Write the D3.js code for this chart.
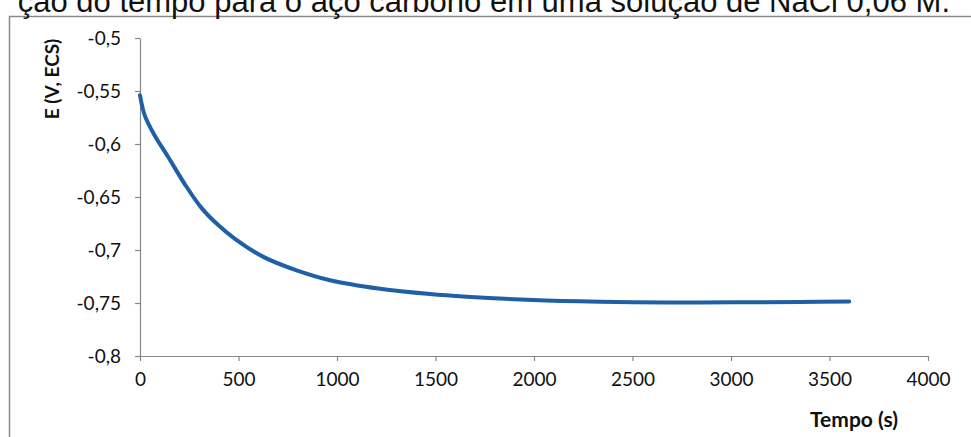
<!DOCTYPE html>
<html><head><meta charset="utf-8">
<script src="https://cdn.jsdelivr.net/npm/d3@7"></script>
<style>body{margin:0;background:#fff;}svg{display:block;}</style>
</head><body>
<svg id="c" width="971" height="437"></svg>
<script>
const titleText = "ção do tempo para o aço carbono em uma solução de NaCl 0,06 M.";
const xLabel = "Tempo (s)";
const yLabel = "E (V, ECS)";
const xTicks = [0, 500, 1000, 1500, 2000, 2500, 3000, 3500, 4000];
const yTicks = [-0.5, -0.55, -0.6, -0.65, -0.7, -0.75, -0.8];
const timeS = [0, 25, 76, 144, 228, 313, 397, 482, 626, 795, 964, 1218, 1472, 1658, 1996, 2335, 2673, 3012, 3350, 3600];
const potentialV = [-0.554, -0.5735, -0.5925, -0.6125, -0.638, -0.6605, -0.6765, -0.6895, -0.7065, -0.7192, -0.7285, -0.7365, -0.7415, -0.744, -0.7472, -0.7488, -0.7495, -0.7493, -0.749, -0.7485];

const svg = d3.select("#c");
const fmt = v => String(v).replace(".", ",");

// frame
svg.append("path").attr("d", "M9.5,437 L9.5,16.5 L971,16.5")
  .attr("fill", "none").attr("stroke", "#8a8a8a").attr("stroke-width", 1.5);

// title fragment
svg.append("text").attr("x", 950).attr("y", 11.5).attr("text-anchor", "end")
  .attr("font-family", "Liberation Sans, Arial, sans-serif").attr("font-size", 31)
  .attr("fill", "#111").text(titleText);

const x = d3.scaleLinear().domain([0, 4000]).range([140, 928]);
const y = d3.scaleLinear().domain([-0.8, -0.5]).range([356, 38]);

const gx = svg.append("g").attr("transform", "translate(0,356)")
  .call(d3.axisBottom(x).tickValues(xTicks).tickFormat(fmt).tickSizeInner(5).tickSizeOuter(0).tickPadding(12));
const gy = svg.append("g").attr("transform", "translate(140,0)")
  .call(d3.axisLeft(y).tickValues(yTicks).tickFormat(fmt).tickSizeInner(5).tickSizeOuter(0).tickPadding(14));
[gx, gy].forEach(g => {
  g.select(".domain").attr("stroke", "#878787").attr("stroke-width", 1.2);
  g.selectAll(".tick line").attr("stroke", "#878787").attr("stroke-width", 1.2);
  g.selectAll(".tick text").attr("font-family", "Lato, sans-serif").attr("font-size", 19).attr("fill", "#111");
});

const line = d3.line().x((d, i) => x(timeS[i])).y(d => y(d)).curve(d3.curveCatmullRom.alpha(0.5));
svg.append("path").datum(potentialV).attr("d", line)
  .attr("fill", "none").attr("stroke", "#1f5fa7").attr("stroke-width", 4)
  .attr("stroke-linecap", "round").attr("stroke-linejoin", "round");

svg.append("text").attr("x", 854).attr("y", 427).attr("text-anchor", "middle")
  .attr("font-family", "Lato, sans-serif").attr("font-weight", "bold").attr("font-size", 21)
  .attr("fill", "#111").text(xLabel);
svg.append("text").attr("transform", "translate(59,79) rotate(-90)").attr("text-anchor", "middle")
  .attr("font-family", "Lato, sans-serif").attr("font-weight", "bold").attr("font-size", 19)
  .attr("fill", "#111").text(yLabel);
</script>
</body></html>
